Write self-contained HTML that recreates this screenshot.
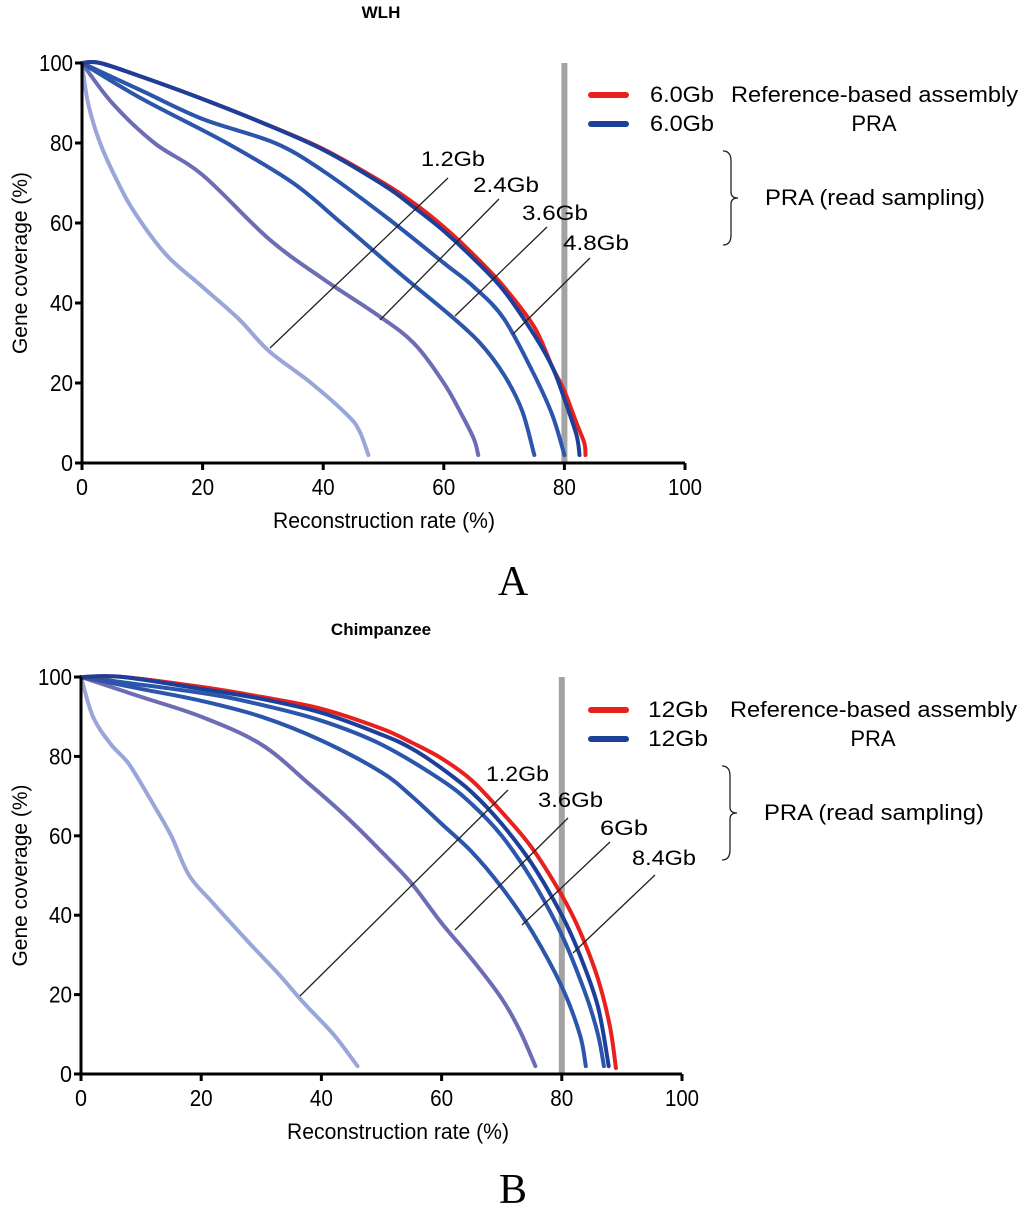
<!DOCTYPE html>
<html><head><meta charset="utf-8"><style>
html,body{margin:0;padding:0;background:#fff;}
svg{display:block;font-family:"Liberation Sans",Arial,sans-serif;}
</style></head><body>
<svg id="s" width="1024" height="1216" viewBox="0 0 1024 1216"></svg>
<script>
const xTicks=[0,20,40,60,80,100];
const yTicks=[0,20,40,60,80,100];
const refLineX=80;
// Panel A (WLH)
const aRef=[[0,100],[3,100],[10,96.5],[20,91],[30,85],[40,78.5],[50,70],[55,65],[60,59],[65,52],[70,44],[75,34],[78,24],[80,18],[82,10],[83.3,5],[83.5,2]];
const aPra=[[0,100],[3,100],[10,96.5],[20,91],[30,85],[40,78.3],[50,69.5],[55,64],[60,58],[65,51],[70,43],[75,32],[78,24],[80,16],[82,7],[82.5,2]];
const a48=[[0,100],[10,93],[20,86],[32,80],[40,73],[50,62],[60,50],[65,44],[70,36],[75,22],[78,12],[80,2]];
const a36=[[0,100],[10,91],[24,80],[35,70],[43,60],[53,47],[61,37],[66,30],[70,22],[73,13],[75,2]];
const a24=[[0,100],[5,90],[12,80],[20,72],[31,56],[40,46],[49,37],[55,30],[60,20],[63,12],[65,6],[65.7,2]];
const a12=[[0,100],[1,90],[3,80],[6,70],[9,62],[14,52],[20,44],[26,36],[31,28],[38,20],[44,12],[46,8],[47.5,2]];
// Panel B (Chimpanzee)
const bRef=[[0,100],[7,100],[20,97.5],[30,95],[40,92],[50,87],[55,83.5],[60,79.5],[65,74],[70,66],[75,57],[80,45],[83,36],[86,24],[88,12],[89,1.5]];
const bPra=[[0,100],[7,100],[20,97],[30,94.5],[40,91],[50,85.5],[55,82],[60,77],[65,71],[70,63],[75,53],[80,40],[83,30],[86,17],[87.8,2]];
const b84=[[0,100],[20,96],[30,93],[40,89],[50,83],[60,74],[65,68],[70,60],[75,49],[80,35],[84,20],[86,10],[87,2]];
const b60=[[0,100],[10,97],[20,94],[30,90],[40,84],[50,76],[55,70],[60,63],[65,56],[70,47],[75,36],[80,22],[83,10],[84,2]];
const b36=[[0,100],[10,95],[20,90],[30,83],[38,73],[44,65],[50,56],[55,48],[60,38],[65,29],[70,19],[73,11],[75.6,2]];
const b12=[[0,100],[2,90],[5,83],[8,78],[12,68],[15,60],[18,50],[22,43],[28,33],[33,25],[37,18],[42,10],[46,2]];

const NS="http://www.w3.org/2000/svg";
const svg=document.getElementById('s');
function mk(tag,attrs,parent,text){const e=document.createElementNS(NS,tag);for(const k in attrs)e.setAttribute(k,attrs[k]);if(text!==undefined)e.textContent=text;(parent||svg).appendChild(e);return e;}
function smooth(pts){
  let d='M'+pts[0][0].toFixed(1)+','+pts[0][1].toFixed(1);
  for(let i=0;i<pts.length-1;i++){
    const p0=pts[Math.max(0,i-1)],p1=pts[i],p2=pts[i+1],p3=pts[Math.min(pts.length-1,i+2)];
    const c1=[p1[0]+(p2[0]-p0[0])/6,p1[1]+(p2[1]-p0[1])/6];
    const c2=[p2[0]-(p3[0]-p1[0])/6,p2[1]-(p3[1]-p1[1])/6];
    d+=`C${c1[0].toFixed(1)},${c1[1].toFixed(1)} ${c2[0].toFixed(1)},${c2[1].toFixed(1)} ${p2[0].toFixed(1)},${p2[1].toFixed(1)}`;
  }
  return d;
}

function panel(P){
  const g=mk('g',{});
  
  
  const sx=v=>P.x0+(P.x1-P.x0)*v/100, sy=v=>P.y0-(P.y0-P.y1)*v/100;
  const t=mk('text',{x:381,y:P.titleY,'text-anchor':'middle','font-size':17,'font-weight':'bold'},g,P.title);
  
  const rl=mk('line',{x1:sx(refLineX),x2:sx(refLineX),y1:P.y1,y2:P.y0,stroke:'#a3a3a3','stroke-width':6},g);
  
  P.series.forEach(s=>{
    const d=smooth(s.data.map(p=>[sx(p[0]),sy(p[1])]));
    const e=mk('path',{d:d,fill:'none',stroke:s.color,'stroke-width':4,'stroke-linecap':'round','stroke-linejoin':'round'},g);
    
  });
  const ax=mk('path',{d:`M${P.x0},${P.y1}V${P.y0}H${P.x1}`,fill:'none',stroke:'#000','stroke-width':3},g);
  
  xTicks.forEach(v=>{
    mk('line',{x1:sx(v),x2:sx(v),y1:P.y0,y2:P.y0+7,stroke:'#000','stroke-width':3},g);
    const tl=mk('text',{x:sx(v),y:P.y0+32,'text-anchor':'middle','font-size':23,'textLength':v==100?34:(v?23:12),'lengthAdjust':'spacingAndGlyphs'},g,String(v));
    
  });
  yTicks.forEach(v=>{
    mk('line',{x1:P.x0-7,x2:P.x0,y1:sy(v),y2:sy(v),stroke:'#000','stroke-width':3},g);
    const tl=mk('text',{x:P.x0-9,y:sy(v)+8,'text-anchor':'end','font-size':23,'textLength':v==100?34:(v?23:12),'lengthAdjust':'spacingAndGlyphs'},g,String(v));
    
  });
  const xt=mk('text',{x:P.xtX,y:P.y0+65,'text-anchor':'middle','font-size':22,'textLength':222,'lengthAdjust':'spacingAndGlyphs'},g,'Reconstruction rate (%)');
  
  const yc=(P.y0+P.y1)/2;
  const yt=mk('text',{x:0,y:0,transform:`translate(${P.ytX},${yc}) rotate(-90)`,'text-anchor':'middle','font-size':21},g,'Gene coverage (%)');
  
  P.ann.forEach(a=>{
    mk('line',{x1:a[0],y1:a[1],x2:a[2],y2:a[3],stroke:'#222','stroke-width':1.3},g);
    const at=mk('text',{x:a[4],y:a[5],'font-size':21,'textLength':a[7],'lengthAdjust':'spacingAndGlyphs'},g,a[6]);
    
  });
  const L=P.leg;
  mk('line',{x1:591,x2:626,y1:L,y2:L,stroke:'#e8211f','stroke-width':6,'stroke-linecap':'round'},g);
  mk('line',{x1:591,x2:626,y1:L+29,y2:L+29,stroke:'#1c3f9a','stroke-width':6,'stroke-linecap':'round'},g);
  [[P.size,P.legX,L+7],[P.size,P.legX,L+36]].forEach(r=>{const e=mk('text',{x:r[1],y:r[2],'font-size':22,'textLength':P.sizeW,'lengthAdjust':'spacingAndGlyphs'},g,r[0]);});
  const l1=mk('text',{x:P.legT,y:L+7,'font-size':22,'textLength':287,'lengthAdjust':'spacingAndGlyphs'},g,'Reference-based assembly');
  
  const l2=mk('text',{x:P.legT+143,y:L+36,'font-size':22,'text-anchor':'middle'},g,'PRA');
  
  const by=L+56, bh=94;
  mk('path',{d:`M${P.legT-8},${by} q8,0 8,10 v${bh/2-16} q0,6 7,6 q-7,0 -7,6 v${bh/2-16} q0,10 -8,10`,fill:'none',stroke:'#222','stroke-width':1.3},g);
  const l3=mk('text',{x:P.legT+34,y:by+bh/2+7,'font-size':22,'textLength':220,'lengthAdjust':'spacingAndGlyphs'},g,'PRA (read sampling)');
  
  const pl=mk('text',{x:513,y:P.letterY,'text-anchor':'middle','font-size':42,'font-family':'"Liberation Serif",serif'},g,P.letter);
  
}
panel({id:'wlh',title:'WLH',titleY:18,x0:82,x1:685,y0:463,y1:63,xtX:384,ytX:27,letter:'A',letterY:595,
  leg:95,legX:650,legT:731,size:'6.0Gb',sizeW:64,
  series:[{name:'series-1.2gb',data:a12,color:'#9aa5d8'},{name:'series-2.4gb',data:a24,color:'#6c6db4'},{name:'series-3.6gb',data:a36,color:'#2c56ac'},{name:'series-4.8gb',data:a48,color:'#2c56ac'},{name:'series-reference-6gb',data:aRef,color:'#e8211f'},{name:'series-pra-6gb',data:aPra,color:'#1c3f9a'}],
  ann:[[270,348,448,178,421,166,'1.2Gb',64],[380,320,499,199,473,192,'2.4Gb',66],[455,316,547,227,522,220,'3.6Gb',66],[513,334,590,258,563,250,'4.8Gb',66]]});
panel({id:'chimpanzee',title:'Chimpanzee',titleY:635,x0:81,x1:682,y0:1074,y1:677,xtX:398,ytX:27,letter:'B',letterY:1203,
  leg:710,legX:648,legT:730,size:'12Gb',sizeW:60,
  series:[{name:'series-1.2gb',data:b12,color:'#9aa5d8'},{name:'series-3.6gb',data:b36,color:'#6c6db4'},{name:'series-6gb',data:b60,color:'#2c56ac'},{name:'series-8.4gb',data:b84,color:'#2c56ac'},{name:'series-reference-12gb',data:bRef,color:'#e8211f'},{name:'series-pra-12gb',data:bPra,color:'#1c3f9a'}],
  ann:[[300,996,508,790,486,781,'1.2Gb',63],[455,930,568,818,538,807,'3.6Gb',65],[522,925,610,842,600,835,'6Gb',48],[573,953,655,875,632,865,'8.4Gb',64]]});
</script>
</body></html>
